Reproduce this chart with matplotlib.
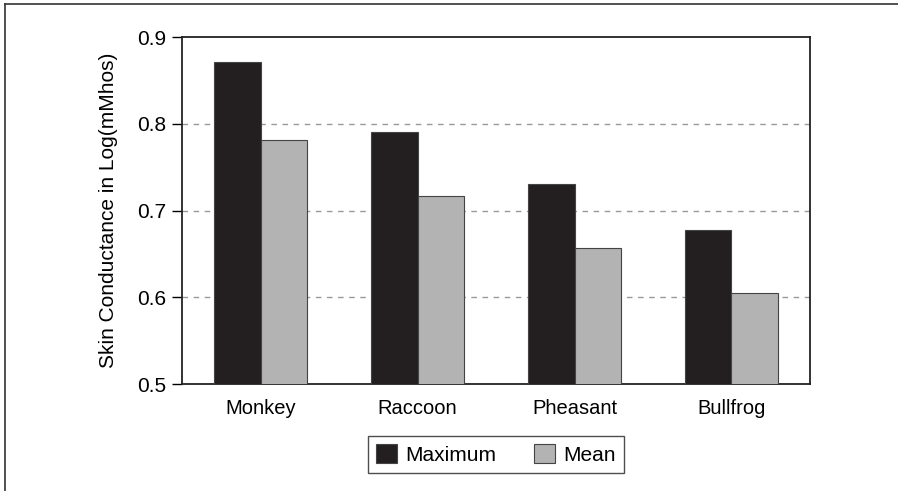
import numpy as np
import matplotlib.pyplot as plt
from matplotlib.lines import Line2D
plt.switch_backend('agg')

plt.rcParams['font.family'] = ['Liberation Sans', 'DejaVu Sans']

animals = ['Monkey', 'Raccoon', 'Pheasant', 'Bullfrog']
maximum = [0.871, 0.791, 0.731, 0.677]
mean = [0.781, 0.717, 0.657, 0.605]

fig = plt.figure(figsize=(8.98, 4.91), dpi=100)
ax = fig.add_axes([0.2027, 0.2179, 0.6993, 0.7067])

x = np.arange(len(animals))
w = 0.296
ax.bar(x - w / 2, maximum, w, color='#231f20', edgecolor='#444444',
       linewidth=0.8, label='Maximum', zorder=3)
ax.bar(x + w / 2, mean, w, color='#b3b3b3', edgecolor='#444444',
       linewidth=0.8, label='Mean', zorder=3)

ax.set_xlim(-0.5, 3.5)
ax.set_ylim(0.5, 0.9)
ax.set_yticks([0.5, 0.6, 0.7, 0.8, 0.9])
ax.set_yticklabels(['0.5', '0.6', '0.7', '0.8', '0.9'])
ax.set_xticks(x)
ax.set_xticklabels(animals)
ax.tick_params(axis='x', length=0, pad=11, labelsize=14.5)
ax.tick_params(axis='y', length=7, width=1, pad=4, labelsize=15)
for yv in [0.6, 0.7, 0.8]:
    ax.axhline(yv, color='#999999', linestyle=(0, (4, 4)), linewidth=1, zorder=1)
for s in ax.spines.values():
    s.set_linewidth(1.3)
    s.set_color('#222222')

ax.set_ylabel('Skin Conductance in Log(mMhos)', fontsize=15, labelpad=14)

leg = ax.legend(loc='upper center', bbox_to_anchor=(0.5, -0.12), ncol=2,
                fontsize=15, frameon=True, fancybox=False, edgecolor='#222222',
                handlelength=1.0, handleheight=1.0, handletextpad=0.4,
                columnspacing=1.8, borderpad=0.4)
leg.get_frame().set_linewidth(1.0)

# outer frame
fig.add_artist(Line2D([5 / 898, 1], [1 - 4 / 491, 1 - 4 / 491],
                      transform=fig.transFigure, color='#333333', linewidth=1.2))
fig.add_artist(Line2D([5 / 898, 5 / 898], [0, 1 - 4 / 491],
                      transform=fig.transFigure, color='#333333', linewidth=1.2))

fig.savefig('out.png', dpi=100)
